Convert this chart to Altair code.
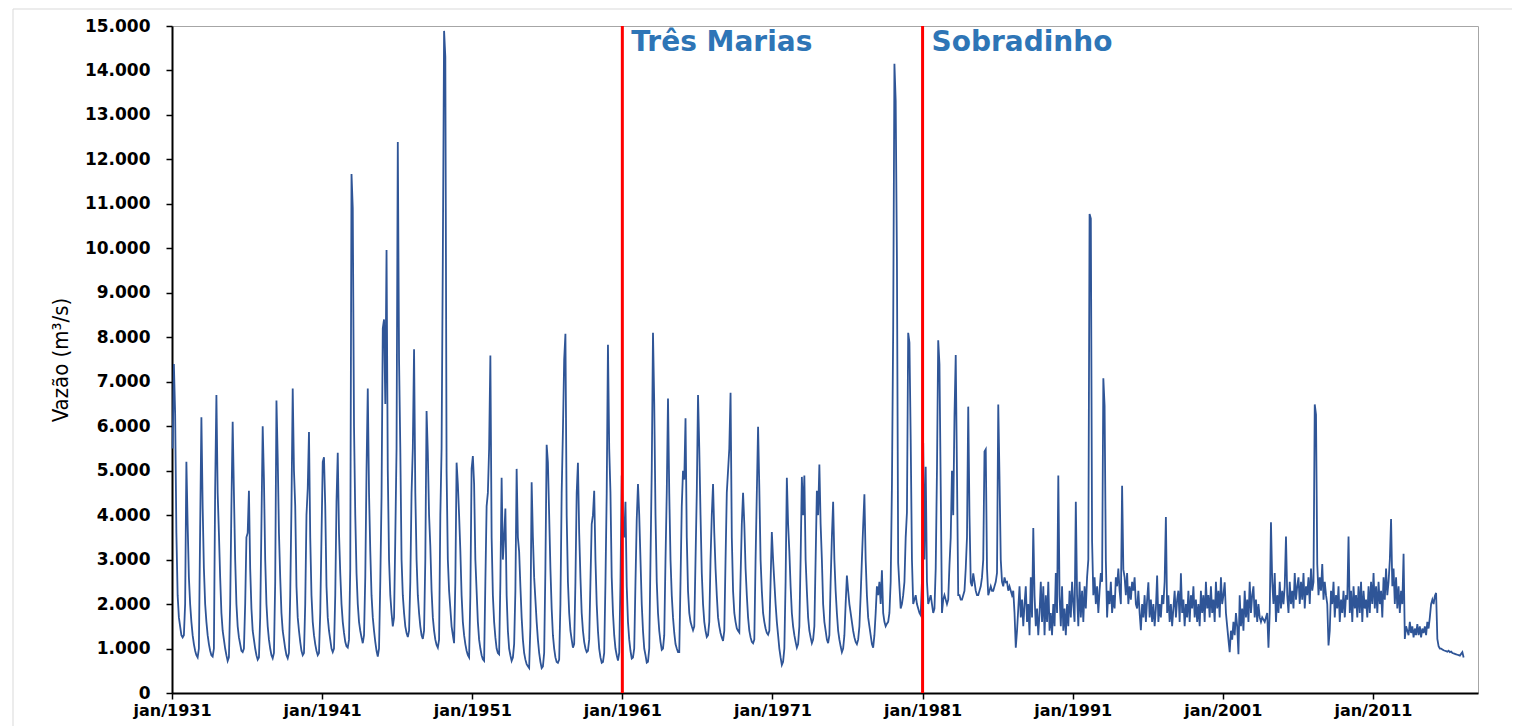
import altair as alt
import pandas as pd

# Monthly flow values (m3/s), Jan..Dec per year
flows_1931_1940 = [
    5500, 7400, 6300, 3600, 2200, 1700, 1500, 1300, 1250, 1300, 2000, 5200,
    3800, 2600, 2000, 1600, 1300, 1100, 950, 850, 800, 1000, 3700, 6200,
    4200, 2800, 2000, 1600, 1300, 1100, 950, 850, 820, 1000, 4600, 6700,
    4500, 3600, 2600, 1800, 1400, 1200, 1000, 850, 720, 800, 2000, 4200,
    6100, 4500, 3000, 2000, 1500, 1250, 1100, 950, 920, 1000, 2000, 3500,
    3600, 4550, 2800, 1900, 1400, 1200, 1000, 850, 750, 800, 1700, 3800,
    6000, 4800, 3000, 2000, 1500, 1200, 1000, 850, 780, 900, 2500, 6580,
    5300, 3600, 2600, 1800, 1400, 1200, 1000, 850, 780, 900, 2200, 4200,
    6850, 5000, 4200, 2400, 1700, 1400, 1150, 950, 850, 900, 2000, 4000,
    4600, 5870, 3500, 2200, 1600, 1300, 1100, 950, 850, 900, 1800, 3500,
]
flows_1941_1950 = [
    5200, 5300, 4200, 2400, 1700, 1400, 1200, 1000, 920, 1000, 2200, 4300,
    5400, 3600, 2700, 2000, 1600, 1350, 1150, 1050, 1020, 1200, 2800, 11670,
    10900, 6000, 4000, 2700, 2000, 1600, 1400, 1250, 1120, 1300, 2600, 5000,
    6850, 4500, 3200, 2200, 1700, 1400, 1150, 950, 820, 1000, 2500, 4400,
    8200, 8400, 6500, 9960, 5000, 3000, 2200, 1800, 1500, 1700, 3500, 5500,
    12390, 7500, 5500, 3000, 2200, 1800, 1500, 1350, 1260, 1400, 2500, 4500,
    5500, 7730, 4500, 3000, 2200, 1800, 1500, 1300, 1215, 1400, 3000, 6340,
    5400, 4000, 3300, 2300, 1700, 1400, 1200, 1080, 1020, 1200, 4000, 5500,
    9800, 14890, 14300, 5000, 3000, 2300, 1900, 1500, 1300, 1120, 2500, 5180,
    4700, 4000, 3200, 2200, 1600, 1300, 1100, 950, 850, 800, 2200, 5040,
]
flows_1951_1960 = [
    5330, 4700, 3000, 2300, 1600, 1200, 1000, 850, 760, 725, 2500, 4200,
    4500, 5500, 7590, 3500, 2200, 1600, 1250, 1000, 900, 870, 2500, 4840,
    3000, 3500, 4150, 2200, 1400, 1000, 850, 725, 800, 1100, 2300, 5040,
    3500, 3180, 2400, 1700, 1200, 900, 750, 650, 600, 560, 1500, 4740,
    3500, 2600, 2100, 1600, 1200, 900, 700, 560, 600, 900, 2800, 5580,
    5180, 4000, 2800, 1900, 1300, 1000, 800, 700, 680, 750, 2000, 4500,
    5900, 7500, 8080, 4000, 2500, 1800, 1400, 1200, 1020, 1100, 2500, 4500,
    5180, 3600, 2600, 1800, 1400, 1150, 1000, 920, 950, 1200, 2500, 3800,
    4000, 4550, 3000, 2000, 1400, 1000, 800, 680, 700, 900, 2500, 4500,
    7830, 5500, 4500, 2600, 1800, 1300, 1000, 850, 730, 900, 2500, 4890,
]
flows_1961_1970 = [
    3800, 3500, 4300, 2400, 1600, 1200, 950, 775, 800, 1000, 2500, 3900,
    4700, 4000, 3000, 2000, 1400, 1000, 850, 680, 700, 1000, 3000, 5000,
    8100, 6500, 4000, 2500, 1800, 1400, 1150, 970, 1000, 1300, 3000, 4500,
    6620, 4500, 3000, 2200, 1700, 1350, 1100, 1000, 920, 920, 2500, 4200,
    5000, 4800, 6180, 3500, 2300, 1800, 1600, 1500, 1410, 1500, 3000, 4500,
    6700, 5500, 4000, 2700, 2000, 1600, 1400, 1260, 1300, 1600, 3000, 4000,
    4700, 3600, 2800, 2200, 1700, 1500, 1350, 1250, 1170, 1400, 3000, 4500,
    5000, 5500, 6750, 3500, 2300, 1800, 1600, 1450, 1400, 1360, 2600, 3800,
    4500, 3800, 2800, 2200, 1700, 1400, 1250, 1150, 1120, 1200, 3000, 4500,
    5990, 4600, 3000, 2300, 1800, 1600, 1450, 1350, 1310, 1400, 2500, 3620,
]
flows_1971_1980 = [
    3000, 2500, 2000, 1600, 1300, 1000, 800, 630, 700, 1000, 2500, 4840,
    3800, 3180, 2400, 1800, 1500, 1300, 1150, 1020, 1100, 1500, 3000, 4860,
    4000, 4890, 3000, 2300, 1700, 1400, 1250, 1120, 1200, 1500, 3000, 4550,
    4000, 5140, 3800, 3000, 2000, 1600, 1400, 1200, 1120, 1300, 2500, 3500,
    4300, 3000, 2300, 1800, 1400, 1200, 1050, 920, 1000, 1300, 2000, 2640,
    2300, 2000, 1800, 1600, 1400, 1250, 1150, 1100, 1200, 1500, 2200, 3000,
    3760, 4470, 3000, 2200, 1700, 1500, 1300, 1100, 1020, 1300, 1800, 2400,
    2200, 2500, 2000, 2760, 1800, 1600, 1500, 1560, 1600, 1800, 2500, 4650,
    8170, 14150, 13320, 9740, 2930, 2400, 1900, 2000, 2200, 2500, 3500, 4060,
    8100, 7880, 5720, 3000, 2000, 2100, 2200, 2000, 1900, 1800, 1750, 2500,
]
flows_1981_1990 = [
    5630, 3000, 5090, 2500, 2000, 2100, 2200, 2000, 1800, 1900, 2800, 5000,
    7930, 7390, 4650, 1800, 2100, 2200, 2100, 2000, 2100, 2880, 3500, 5000,
    4000, 6210, 7600, 4940, 2200, 2200, 2100, 2100, 2200, 2300, 2800, 3500,
    6440, 4000, 2490, 2400, 2690, 2500, 2300, 2200, 2200, 2300, 2400, 2600,
    3000, 5430, 5480, 2800, 2200, 2300, 2400, 2300, 2300, 2400, 2500, 2700,
    6490, 4840, 3000, 2500, 2400, 2600, 2490, 2500, 2300, 2400, 2300, 2200,
    2300, 1800, 1020, 1400, 1900, 2400, 1700, 2100, 1500, 2000, 2400, 1600,
    2000, 1300, 2600, 1700, 3710, 2200, 1500, 1900, 1300, 1800, 2500, 1600,
    2400, 1300, 2200, 1600, 2500, 1400, 1800, 1300, 2000, 1500, 2700, 1800,
    4890, 2200, 1500, 2400, 1400, 1900, 1300, 2000, 1500, 2300, 1700, 2500,
]
flows_1991_2000 = [
    2000, 1600, 4300, 2200, 1500, 2500, 1700, 2300, 1600, 2400, 1900, 2600,
    3000, 10770, 10670, 3420, 2200, 2600, 2000, 2400, 1800, 2300, 2700, 2500,
    7080, 6460, 2980, 1700, 2300, 2000, 2500, 1800, 2200, 1900, 2600, 2400,
    2800, 2300, 2000, 4660, 2780, 2600, 2200, 2700, 2000, 2400, 2100, 2500,
    2300, 2600, 2000, 1900, 2300, 1800, 1410, 2000, 1700, 2200, 1600, 2100,
    2490, 1700, 2100, 1600, 2000, 1500, 1900, 2640, 1600, 2000, 1700, 2200,
    2000, 2500, 3960, 1800, 2200, 1600, 2000, 1500, 1900, 2300, 1700, 2100,
    2300, 1600, 2690, 1800, 2100, 1500, 2000, 1700, 2300, 1600, 2200, 1900,
    2400, 1700, 2100, 1600, 2000, 1500, 2300, 1800, 2200, 1600, 2500, 1900,
    2200, 1700, 2400, 1800, 2100, 1600, 2500, 1900, 2300, 1700, 2600, 2000,
]
flows_2001_2010 = [
    2200, 2490, 1800, 1500, 1200, 920, 1400, 1200, 1600, 1300, 1800, 1500,
    870, 2200, 1500, 1900, 1400, 2300, 1700, 2100, 1600, 2500, 1800, 2200,
    2400, 1700, 2100, 1600, 2000, 1700, 1600, 1700, 1650, 1600, 1700, 1800,
    1020, 1800, 3840, 2500, 2000, 2700, 1600, 2200, 1800, 2500, 1900, 2300,
    2000, 2400, 3520, 2200, 1800, 2500, 2000, 2300, 1900, 2700, 2100, 2400,
    2600, 2000, 2500, 2100, 2700, 1900, 2400, 2200, 2600, 2000, 2800, 2300,
    2500, 6490, 6260, 2900, 2200, 2600, 2300, 2900, 2100, 2500, 2200, 2000,
    1070, 1400, 2300, 2000, 2500, 1700, 2200, 1900, 2400, 1600, 2100, 1800,
    2300, 1700, 2200, 2100, 3520, 1800, 2300, 1600, 2400, 1900, 2200, 1700,
    2400, 1800, 2500, 1600, 2300, 1900, 2100, 1700, 2400, 1800, 2500, 2000,
]
flows_2011_2017 = [
    2700, 1900, 2400, 1800, 2500, 2000, 2300, 1700, 2600, 2100, 2800, 2200,
    2500, 2980, 3910, 2400, 2800, 2000, 2600, 1900, 2400, 1800, 2300, 2000,
    3130, 1215, 1500, 1400, 1300, 1600, 1350, 1500, 1250, 1450, 1300, 1550,
    1300, 1500, 1250, 1450, 1350, 1500, 1300, 1600, 1450, 1700, 2000, 2100,
    2000, 2180, 2250, 1215, 1050, 1000, 1000, 980, 960, 950, 940, 930,
    950, 920, 930, 900, 890, 880, 870, 860, 850, 840, 880, 920,
    800,
]

decade_starts = [1931, 1941, 1951, 1961, 1971, 1981, 1991, 2001, 2011]
decade_flows = [flows_1931_1940, flows_1941_1950, flows_1951_1960, flows_1961_1970,
                flows_1971_1980, flows_1981_1990, flows_1991_2000, flows_2001_2010,
                flows_2011_2017]

dam_names = ["Três Marias", "Sobradinho"]
dam_years = [1961.0, 1981.0]

x_tick_years = [1931, 1941, 1951, 1961, 1971, 1981, 1991, 2001, 2011]
y_ticks = list(range(0, 15001, 1000))

rows = []
for start, flat in zip(decade_starts, decade_flows):
    for i, v in enumerate(flat):
        rows.append({"t": start + (i + 0.5) / 12.0, "q": v})
df = pd.DataFrame(rows)
dams = pd.DataFrame({"t": dam_years, "name": dam_names})

xscale = alt.Scale(domain=[1931, 2018], nice=False, zero=False)
yscale = alt.Scale(domain=[0, 15000], nice=False)

line = alt.Chart(df).mark_line(color="#2F5597", strokeWidth=1.8).encode(
    x=alt.X("t:Q", scale=xscale,
            axis=alt.Axis(values=x_tick_years, labelExpr="'jan/' + datum.value",
                          title=None, grid=False, labelPadding=3, labelFlush=False,
                          labelFontSize=16)),
    y=alt.Y("q:Q", scale=yscale,
            axis=alt.Axis(values=y_ticks,
                          labelExpr="replace(format(datum.value, ','), ',', '.')",
                          title="Vazão (m³/s)", grid=False, labelPadding=16,
                          labelFontSize=17, labelFlush=False,
                          titleFont="Liberation Sans Narrow, DejaVu Sans Condensed, Roboto, sans-serif",
                          titleFontSize=22, titleFontWeight="normal", titlePadding=12)),
)

rules = alt.Chart(dams).mark_rule(color="#FF0000", strokeWidth=3).encode(
    x=alt.X("t:Q", scale=xscale)
)

labels = alt.Chart(dams).mark_text(
    align="left", baseline="alphabetic", dx=9, font="DejaVu Sans",
    fontWeight="bold", fontSize=28, color="#2E75B6"
).encode(x=alt.X("t:Q", scale=xscale), y=alt.value(25), text="name:N")

frame_df = pd.DataFrame({"k": [0]})
frame_top = alt.Chart(frame_df).mark_rule(color="#D9D9D9", strokeWidth=1).encode(
    x=alt.value(-159), x2=alt.value(1340), y=alt.value(-17), y2=alt.value(-17))
frame_left = alt.Chart(frame_df).mark_rule(color="#D9D9D9", strokeWidth=1).encode(
    x=alt.value(-159), x2=alt.value(-159), y=alt.value(-17), y2=alt.value(710))

chart = alt.layer(frame_top, frame_left, line, rules, labels).properties(
    width=1306, height=667,
    autosize=alt.AutoSizeParams(type="none"),
    padding={"left": 164, "top": 18, "right": 40, "bottom": 33},
).configure_view(
    stroke="#A6A6A6", strokeWidth=1
).configure_axis(
    domainColor="#000000", domainWidth=2, tickColor="#000000", tickWidth=1.5,
    tickSize=6, labelFont="DejaVu Sans", labelFontWeight="bold",
    labelColor="#000000", titleColor="#000000"
)

chart.save("out.html", embed_options={"renderer": "svg", "actions": False})
